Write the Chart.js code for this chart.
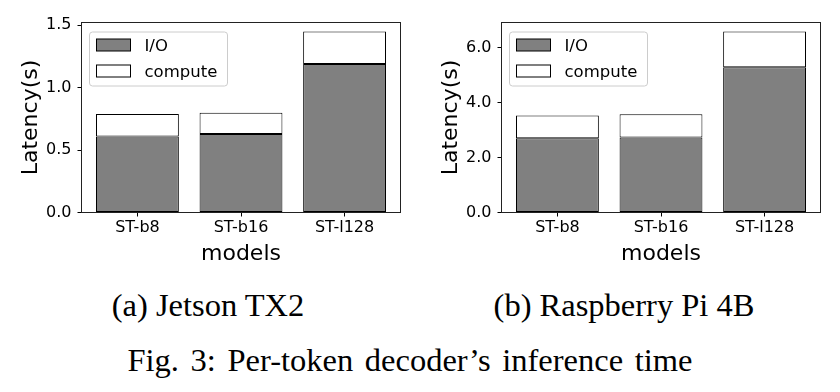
<!DOCTYPE html>
<html>
<head>
<meta charset="utf-8">
<script src="https://cdn.jsdelivr.net/npm/chart.js@4/dist/chart.umd.min.js"></script>
<style>
  html, body { margin: 0; padding: 0; background: #ffffff; }
  #page { position: relative; width: 840px; height: 392px; overflow: hidden; }
  canvas { position: absolute; top: 0; }
  .caption {
    position: absolute;
    width: 600px;
    text-align: center;
    font-family: 'Liberation Serif', 'Times New Roman', serif;
    font-size: 32.5px;
    line-height: 32px;
    color: #000;
    white-space: nowrap;
  }
</style>
</head>
<body>
<div id="page">
  <canvas id="tx2" width="420" height="270" style="left:0px"></canvas>
  <canvas id="pi" width="420" height="270" style="left:420px"></canvas>
  <div class="caption" style="left:-92px; top:289px">(a) Jetson TX2</div>
  <div class="caption" style="left:324px; top:289px">(b) Raspberry Pi 4B</div>
  <div class="caption" style="left:110px; top:344px; word-spacing:3.5px">Fig. 3: Per-token decoder’s inference time</div>
</div>
<script>
const models = ['ST-b8', 'ST-b16', 'ST-l128'];
const seriesLabels = ['I/O', 'compute'];

// Jetson TX2 (seconds)
const tx2Io = [0.61, 0.63, 1.19];
const tx2Compute = [0.18, 0.17, 0.26];

// Raspberry Pi 4B (seconds)
const piIo = [2.70, 2.73, 5.28];
const piCompute = [0.83, 0.84, 1.30];

const tx2Step = 0.5;
const piStep = 2;

const FONT = "'DejaVu Sans', sans-serif";

// box around the plot + matplotlib style legend
const framePlugin = {
  id: 'frameLegend',
  afterDraw(chart) {
    const { ctx, chartArea: ca } = chart;
    ctx.save();
    ctx.strokeStyle = '#222';
    ctx.lineWidth = 1;
    ctx.strokeRect(ca.left, ca.top, ca.right - ca.left, ca.bottom - ca.top);

    // legend frame
    const lx = ca.left + 8, ly = ca.top + 9.5, lw = 138, lh = 54;
    ctx.beginPath();
    ctx.roundRect(lx, ly, lw, lh, 3);
    ctx.fillStyle = 'rgba(255,255,255,0.8)';
    ctx.fill();
    ctx.strokeStyle = '#cccccc';
    ctx.stroke();

    const rows = [ca.top + 22.5, ca.top + 48.5];
    chart.data.datasets.forEach((ds, i) => {
      const cy = rows[i];
      ctx.fillStyle = ds.backgroundColor;
      ctx.fillRect(ca.left + 15, cy - 6, 34, 12);
      ctx.strokeStyle = '#000';
      ctx.strokeRect(ca.left + 15, cy - 6, 34, 12);
      ctx.fillStyle = '#000';
      ctx.font = '16.5px ' + FONT;
      ctx.textBaseline = 'alphabetic';
      ctx.textAlign = 'left';
      ctx.fillText(ds.label, ca.left + 63, cy + 6);
    });
    ctx.restore();
  }
};

function makeChart(canvasId, io, compute, step) {
  const canvas = document.getElementById(canvasId);
  const totals = io.map((v, i) => v + compute[i]);
  const yMax = Math.max(...totals) * 1.05;
  const positions = models.map((_, i) => i);

  return new Chart(canvas.getContext('2d'), {
    type: 'bar',
    data: {
      datasets: [
        {
          label: seriesLabels[0],
          data: io.map((v, i) => ({ x: positions[i], y: v })),
          backgroundColor: '#808080',
          borderColor: '#000000',
          borderWidth: 1,
          borderSkipped: false
        },
        {
          label: seriesLabels[1],
          data: compute.map((v, i) => ({ x: positions[i], y: v })),
          backgroundColor: '#ffffff',
          borderColor: '#000000',
          borderWidth: 1,
          borderSkipped: false
        }
      ]
    },
    options: {
      responsive: false,
      animation: false,
      categoryPercentage: 1,
      barPercentage: 0.8,
      layout: { padding: { top: 22.5, right: 19.5, left: 0, bottom: 0 } },
      plugins: {
        legend: { display: false },
        tooltip: { enabled: false }
      },
      scales: {
        x: {
          type: 'linear',
          stacked: true,
          offset: false,
          min: -0.54,
          max: models.length - 1 + 0.54,
          afterFit(scale) { scale.height = 57.5; },
          afterBuildTicks(scale) { scale.ticks = positions.map((v) => ({ value: v })); },
          grid: { offset: false, drawOnChartArea: false, drawTicks: true, tickLength: 4, tickColor: '#000' },
          border: { display: false },
          ticks: {
            color: '#000',
            padding: 2,
            font: { family: FONT, size: 16 },
            callback(value) { return models[value]; }
          },
          title: {
            display: true,
            text: 'models',
            color: '#000',
            font: { family: FONT, size: 22 },
            padding: { top: 0, bottom: 3 }
          }
        },
        y: {
          stacked: true,
          min: 0,
          max: yMax,
          afterFit(scale) { scale.width = 81.5; },
          grid: { drawOnChartArea: false, drawTicks: true, tickLength: 4, tickColor: '#000' },
          border: { display: false },
          ticks: {
            stepSize: step,
            includeBounds: false,
            color: '#000',
            padding: 6,
            font: { family: FONT, size: 16 },
            callback(value) { return value.toFixed(1); }
          },
          title: {
            display: true,
            text: 'Latency(s)',
            color: '#000',
            font: { family: FONT, size: 22 },
            padding: { top: 18, bottom: 0 }
          }
        }
      }
    },
    plugins: [framePlugin]
  });
}

makeChart('tx2', tx2Io, tx2Compute, tx2Step);
makeChart('pi', piIo, piCompute, piStep);
</script>
</body>
</html>
